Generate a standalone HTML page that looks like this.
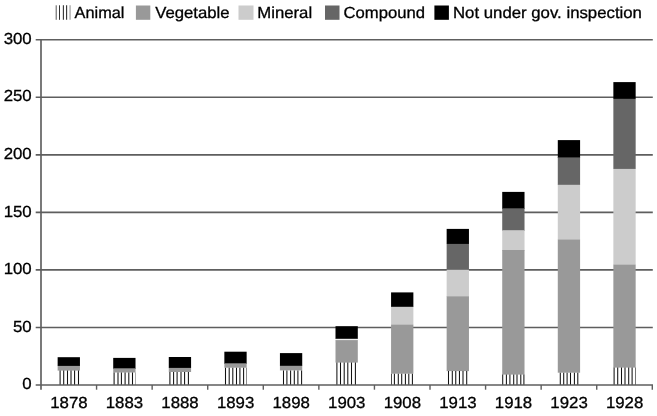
<!DOCTYPE html>
<html><head><meta charset="utf-8"><title>Chart</title>
<style>
html,body{margin:0;padding:0;background:#fff;}
svg{display:block;}
text{font-family:"Liberation Sans",sans-serif;font-size:16px;text-rendering:geometricPrecision;fill:#000;stroke:#000;stroke-width:0.3px;}
</style></head><body>
<svg width="657" height="416" viewBox="0 0 657 416">
<rect width="657" height="416" fill="#fff"/>

<line x1="35.7" y1="327.45" x2="652.8" y2="327.45" stroke="#5e5e5e" stroke-width="1.65"/>
<line x1="35.7" y1="269.90" x2="652.8" y2="269.90" stroke="#5e5e5e" stroke-width="1.65"/>
<line x1="35.7" y1="212.35" x2="652.8" y2="212.35" stroke="#5e5e5e" stroke-width="1.65"/>
<line x1="35.7" y1="154.80" x2="652.8" y2="154.80" stroke="#5e5e5e" stroke-width="1.65"/>
<line x1="35.7" y1="97.25" x2="652.8" y2="97.25" stroke="#5e5e5e" stroke-width="1.65"/>
<line x1="35.7" y1="39.70" x2="652.8" y2="39.70" stroke="#5e5e5e" stroke-width="1.65"/>
<rect x="57.64" y="357.20" width="22.3" height="8.80" fill="#000"/>
<rect x="57.64" y="365.90" width="22.3" height="5.10" fill="#999"/>
<rect x="57.04" y="370.60" width="23.5" height="14.40" fill="#fff"/>
<path d="M59.58 370.60H60.62V385.00H59.58ZM63.18 370.60H64.23V385.00H63.18ZM66.97 370.60H68.03V385.00H66.97ZM70.47 370.60H71.53V385.00H70.47ZM74.07 370.60H75.12V385.00H74.07ZM77.97 370.60H79.03V385.00H77.97Z" fill="#111"/>
<rect x="113.21" y="357.90" width="22.3" height="11.10" fill="#000"/>
<rect x="113.21" y="368.30" width="22.3" height="4.70" fill="#999"/>
<rect x="112.61" y="372.50" width="23.5" height="12.50" fill="#fff"/>
<path d="M113.57 372.50H114.62V385.00H113.57ZM117.47 372.50H118.53V385.00H117.47ZM120.88 372.50H121.93V385.00H120.88ZM124.57 372.50H125.62V385.00H124.57ZM128.28 372.50H129.33V385.00H128.28ZM131.97 372.50H133.03V385.00H131.97ZM135.17 372.50H135.51V385.00H135.17Z" fill="#111"/>
<rect x="168.78" y="357.00" width="22.3" height="11.00" fill="#000"/>
<rect x="168.78" y="367.90" width="22.3" height="5.10" fill="#999"/>
<rect x="168.18" y="372.00" width="23.5" height="13.00" fill="#fff"/>
<path d="M169.38 372.00H170.43V385.00H169.38ZM173.07 372.00H174.12V385.00H173.07ZM176.57 372.00H177.62V385.00H176.57ZM180.47 372.00H181.53V385.00H180.47ZM184.07 372.00H185.12V385.00H184.07ZM187.88 372.00H188.93V385.00H187.88Z" fill="#111"/>
<rect x="224.35" y="351.70" width="22.3" height="12.30" fill="#000"/>
<rect x="224.35" y="363.30" width="22.3" height="4.70" fill="#999"/>
<rect x="223.75" y="367.70" width="23.5" height="17.30" fill="#fff"/>
<path d="M224.97 367.70H226.03V385.00H224.97ZM228.67 367.70H229.72V385.00H228.67ZM232.28 367.70H233.33V385.00H232.28ZM235.97 367.70H237.03V385.00H235.97ZM239.38 367.70H240.43V385.00H239.38ZM243.07 367.70H244.12V385.00H243.07ZM246.17 367.70H246.65V385.00H246.17Z" fill="#111"/>
<rect x="279.93" y="353.10" width="22.3" height="12.90" fill="#000"/>
<rect x="279.93" y="365.80" width="22.3" height="5.20" fill="#999"/>
<rect x="279.33" y="370.40" width="23.5" height="14.60" fill="#fff"/>
<path d="M282.98 370.40H284.02V385.00H282.98ZM286.38 370.40H287.42V385.00H286.38ZM290.08 370.40H291.12V385.00H290.08ZM293.78 370.40H294.82V385.00H293.78ZM297.38 370.40H298.42V385.00H297.38ZM301.08 370.40H302.12V385.00H301.08Z" fill="#111"/>
<rect x="335.50" y="326.20" width="22.3" height="12.80" fill="#000"/>
<rect x="335.50" y="338.80" width="22.3" height="2.20" fill="#eee"/>
<rect x="335.50" y="340.10" width="22.3" height="22.90" fill="#999"/>
<rect x="334.90" y="362.60" width="23.5" height="22.40" fill="#fff"/>
<path d="M336.38 362.60H337.42V385.00H336.38ZM339.98 362.60H341.02V385.00H339.98ZM343.68 362.60H344.72V385.00H343.68ZM347.28 362.60H348.32V385.00H347.28ZM350.98 362.60H352.02V385.00H350.98ZM354.88 362.60H355.92V385.00H354.88Z" fill="#111"/>
<rect x="391.07" y="292.40" width="22.3" height="14.60" fill="#000"/>
<rect x="391.07" y="306.80" width="22.3" height="18.20" fill="#ccc"/>
<rect x="391.07" y="324.70" width="22.3" height="49.30" fill="#999"/>
<rect x="390.47" y="373.70" width="23.5" height="11.30" fill="#fff"/>
<path d="M391.07 373.70H391.82V385.00H391.07ZM393.88 373.70H394.92V385.00H393.88ZM397.78 373.70H398.82V385.00H397.78ZM401.18 373.70H402.22V385.00H401.18ZM404.88 373.70H405.92V385.00H404.88ZM408.28 373.70H409.32V385.00H408.28ZM411.88 373.70H412.92V385.00H411.88Z" fill="#111"/>
<rect x="446.65" y="228.90" width="22.3" height="15.10" fill="#000"/>
<rect x="446.65" y="243.90" width="22.3" height="26.10" fill="#666"/>
<rect x="446.65" y="269.80" width="22.3" height="27.20" fill="#ccc"/>
<rect x="446.65" y="296.40" width="22.3" height="75.60" fill="#999"/>
<rect x="446.05" y="371.10" width="23.5" height="13.90" fill="#fff"/>
<path d="M447.98 371.10H449.02V385.00H447.98ZM451.78 371.10H452.82V385.00H451.78ZM455.23 371.10H456.27V385.00H455.23ZM458.93 371.10H459.97V385.00H458.93ZM462.48 371.10H463.52V385.00H462.48ZM466.18 371.10H467.22V385.00H466.18Z" fill="#111"/>
<rect x="502.22" y="191.90" width="22.3" height="17.10" fill="#000"/>
<rect x="502.22" y="208.30" width="22.3" height="22.70" fill="#666"/>
<rect x="502.22" y="230.20" width="22.3" height="20.80" fill="#ccc"/>
<rect x="502.22" y="250.00" width="22.3" height="125.00" fill="#999"/>
<rect x="501.62" y="374.60" width="23.5" height="10.40" fill="#fff"/>
<path d="M502.22 374.60H503.22V385.00H502.22ZM505.88 374.60H506.92V385.00H505.88ZM509.38 374.60H510.42V385.00H509.38ZM513.18 374.60H514.23V385.00H513.18ZM516.48 374.60H517.52V385.00H516.48ZM520.27 374.60H521.32V385.00H520.27ZM523.38 374.60H524.42V385.00H523.38Z" fill="#111"/>
<rect x="557.79" y="140.10" width="22.3" height="17.90" fill="#000"/>
<rect x="557.79" y="157.40" width="22.3" height="27.60" fill="#666"/>
<rect x="557.79" y="184.80" width="22.3" height="55.20" fill="#ccc"/>
<rect x="557.79" y="239.60" width="22.3" height="133.40" fill="#999"/>
<rect x="557.19" y="372.70" width="23.5" height="12.30" fill="#fff"/>
<path d="M559.77 372.70H560.82V385.00H559.77ZM563.18 372.70H564.23V385.00H563.18ZM566.58 372.70H567.62V385.00H566.58ZM569.98 372.70H571.02V385.00H569.98ZM573.88 372.70H574.92V385.00H573.88ZM577.27 372.70H578.32V385.00H577.27Z" fill="#111"/>
<rect x="613.36" y="82.10" width="22.3" height="16.90" fill="#000"/>
<rect x="613.36" y="98.80" width="22.3" height="70.20" fill="#666"/>
<rect x="613.36" y="168.90" width="22.3" height="96.10" fill="#ccc"/>
<rect x="613.36" y="264.70" width="22.3" height="103.30" fill="#999"/>
<rect x="612.76" y="367.60" width="23.5" height="17.40" fill="#fff"/>
<path d="M613.58 367.60H614.62V385.00H613.58ZM617.18 367.60H618.23V385.00H617.18ZM620.98 367.60H622.02V385.00H620.98ZM624.48 367.60H625.52V385.00H624.48ZM628.18 367.60H629.23V385.00H628.18ZM631.58 367.60H632.62V385.00H631.58ZM635.08 367.60H635.66V385.00H635.08Z" fill="#111"/>
<line x1="35.7" y1="385.00" x2="653.0" y2="385.00" stroke="#5e5e5e" stroke-width="1.65"/>
<line x1="41.00" y1="39.00" x2="41.00" y2="389.70" stroke="#5e5e5e" stroke-width="1.65"/>
<line x1="96.57" y1="385.00" x2="96.57" y2="389.70" stroke="#5e5e5e" stroke-width="1.4"/>
<line x1="152.15" y1="385.00" x2="152.15" y2="389.70" stroke="#5e5e5e" stroke-width="1.4"/>
<line x1="207.72" y1="385.00" x2="207.72" y2="389.70" stroke="#5e5e5e" stroke-width="1.4"/>
<line x1="263.29" y1="385.00" x2="263.29" y2="389.70" stroke="#5e5e5e" stroke-width="1.4"/>
<line x1="318.86" y1="385.00" x2="318.86" y2="389.70" stroke="#5e5e5e" stroke-width="1.4"/>
<line x1="374.44" y1="385.00" x2="374.44" y2="389.70" stroke="#5e5e5e" stroke-width="1.4"/>
<line x1="430.01" y1="385.00" x2="430.01" y2="389.70" stroke="#5e5e5e" stroke-width="1.4"/>
<line x1="485.58" y1="385.00" x2="485.58" y2="389.70" stroke="#5e5e5e" stroke-width="1.4"/>
<line x1="541.15" y1="385.00" x2="541.15" y2="389.70" stroke="#5e5e5e" stroke-width="1.4"/>
<line x1="596.73" y1="385.00" x2="596.73" y2="389.70" stroke="#5e5e5e" stroke-width="1.4"/>
<line x1="652.30" y1="385.00" x2="652.30" y2="389.70" stroke="#5e5e5e" stroke-width="1.4"/>
<text transform="translate(31.70,389.20) scale(1.05,1)" text-anchor="end">0</text>
<text transform="translate(31.70,331.65) scale(1.05,1)" text-anchor="end">50</text>
<text transform="translate(31.70,274.10) scale(1.05,1)" text-anchor="end">100</text>
<text transform="translate(31.70,216.55) scale(1.05,1)" text-anchor="end">150</text>
<text transform="translate(31.70,159.00) scale(1.05,1)" text-anchor="end">200</text>
<text transform="translate(31.70,101.45) scale(1.05,1)" text-anchor="end">250</text>
<text transform="translate(31.70,43.90) scale(1.05,1)" text-anchor="end">300</text>
<text transform="translate(68.89,407.50) scale(1.05,1)" text-anchor="middle">1878</text>
<text transform="translate(124.46,407.50) scale(1.05,1)" text-anchor="middle">1883</text>
<text transform="translate(180.03,407.50) scale(1.05,1)" text-anchor="middle">1888</text>
<text transform="translate(235.60,407.50) scale(1.05,1)" text-anchor="middle">1893</text>
<text transform="translate(291.18,407.50) scale(1.05,1)" text-anchor="middle">1898</text>
<text transform="translate(346.75,407.50) scale(1.05,1)" text-anchor="middle">1903</text>
<text transform="translate(402.32,407.50) scale(1.05,1)" text-anchor="middle">1908</text>
<text transform="translate(457.90,407.50) scale(1.05,1)" text-anchor="middle">1913</text>
<text transform="translate(513.47,407.50) scale(1.05,1)" text-anchor="middle">1918</text>
<text transform="translate(569.04,407.50) scale(1.05,1)" text-anchor="middle">1923</text>
<text transform="translate(624.61,407.50) scale(1.05,1)" text-anchor="middle">1928</text>
<line x1="56.2" y1="5.3" x2="56.2" y2="19.8" stroke="#555" stroke-width="1.0"/>
<line x1="59.5" y1="5.3" x2="59.5" y2="19.8" stroke="#333" stroke-width="1.0"/>
<line x1="63.4" y1="5.3" x2="63.4" y2="19.8" stroke="#333" stroke-width="1.1"/>
<line x1="66.6" y1="5.3" x2="66.6" y2="19.8" stroke="#333" stroke-width="1.1"/>
<line x1="70.1" y1="5.3" x2="70.1" y2="19.8" stroke="#bbb" stroke-width="1.7"/>
<text transform="translate(74.60,17.60) scale(1.02,1)">Animal</text>
<rect x="135.9" y="5.5" width="14.4" height="14.3" fill="#999"/>
<text transform="translate(155.20,17.60) scale(1.045,1)">Vegetable</text>
<rect x="238.5" y="5.5" width="15" height="14.3" fill="#ccc"/>
<text transform="translate(257.30,17.60) scale(1.045,1)">Mineral</text>
<rect x="325" y="5.5" width="14.5" height="14.3" fill="#666"/>
<text transform="translate(343.60,17.60) scale(1.04,1)">Compound</text>
<rect x="434.4" y="5.5" width="14.5" height="14.3" fill="#000"/>
<text transform="translate(453.00,17.60) scale(1.048,1)">Not under gov. inspection</text>
</svg></body></html>
